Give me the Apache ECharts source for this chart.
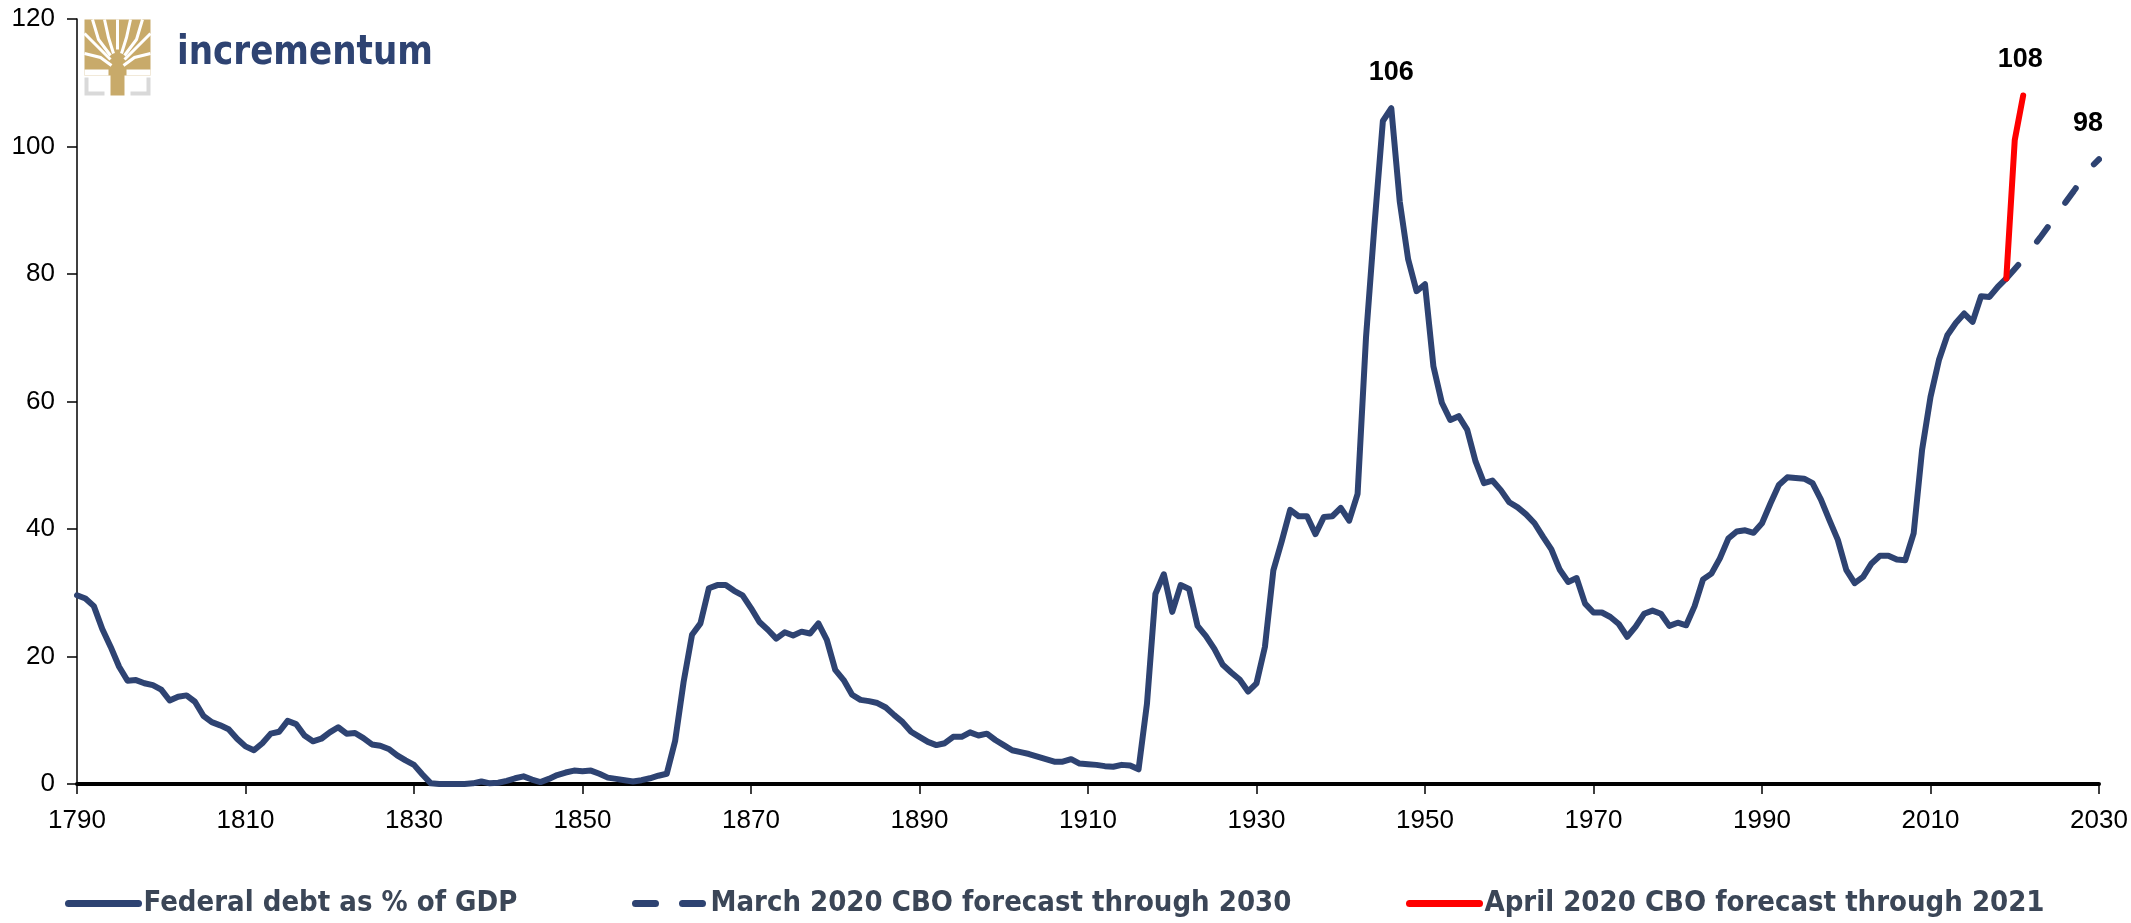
<!DOCTYPE html>
<html>
<head>
<meta charset="utf-8">
<title>Federal debt as % of GDP</title>
<script src="https://cdn.jsdelivr.net/npm/echarts@6/dist/echarts.min.js"></script>
<style>
  html, body { margin: 0; padding: 0; background: #fff; }
  #chart { width: 2131px; height: 923px; }
</style>
</head>
<body>
<div id="chart"></div>
<script>
// historical series, one value per year starting 1790
const histStart = 1790
const debtValues = [
  29.6, 29.1, 27.9, 24.3, 21.5, 18.4, 16.2, 16.3, 15.8, 15.5, // 1790-1799
  14.8, 13.1, 13.7, 13.9, 12.9, 10.7, 9.7, 9.2, 8.6, 7.1,      // 1800s
  5.9, 5.3, 6.4, 7.9, 8.2, 9.9, 9.4, 7.6, 6.7, 7.1,            // 1810s
  8.1, 8.9, 7.9, 8.0, 7.2, 6.2, 6.0, 5.5, 4.5, 3.7,            // 1820s
  3.0, 1.5, 0.1, 0.0, 0.0, 0.0, 0.0, 0.1, 0.4, 0.1,            // 1830s
  0.2, 0.5, 0.9, 1.2, 0.7, 0.3, 0.8, 1.4, 1.8, 2.1,            // 1840s
  2.0, 2.1, 1.6, 1.0, 0.8, 0.6, 0.4, 0.6, 0.9, 1.3,            // 1850s
  1.6, 6.8, 16.0, 23.4, 25.2, 30.7, 31.2, 31.2, 30.3, 29.6,    // 1860s
  27.6, 25.4, 24.2, 22.8, 23.8, 23.3, 23.9, 23.6, 25.2, 22.6,  // 1870s
  17.9, 16.3, 14.0, 13.2, 13.0, 12.7, 12.0, 10.8, 9.7, 8.2,    // 1880s
  7.4, 6.6, 6.1, 6.4, 7.4, 7.4, 8.1, 7.6, 7.9, 6.9,            // 1890s
  6.1, 5.3, 5.0, 4.7, 4.3, 3.9, 3.5, 3.5, 3.9, 3.2,            // 1900s
  3.1, 3.0, 2.8, 2.7, 3.0, 2.9, 2.3, 12.6, 29.8, 32.9,         // 1910s
  27.0, 31.2, 30.6, 24.8, 23.2, 21.2, 18.7, 17.5, 16.4, 14.5,  // 1920s
  15.8, 21.5, 33.5, 38.1, 43.0, 42.0, 42.0, 39.2, 41.9, 42.0,  // 1930s
  43.3, 41.3, 45.5, 70.1, 87.6, 104.0, 106.0, 91.4, 82.3, 77.3, // 1940s
  78.4, 65.5, 59.8, 57.1, 57.7, 55.6, 50.6, 47.2, 47.6, 46.1,  // 1950s
  44.2, 43.4, 42.3, 40.9, 38.8, 36.8, 33.6, 31.7, 32.3, 28.3,  // 1960s
  26.9, 26.9, 26.2, 25.1, 23.1, 24.7, 26.7, 27.2, 26.7, 24.8,  // 1970s
  25.3, 24.9, 27.9, 32.1, 33.0, 35.4, 38.5, 39.6, 39.8, 39.4,  // 1980s
  40.9, 44.0, 46.9, 48.1, 48.0, 47.9, 47.2, 44.6, 41.4, 38.3,  // 1990s
  33.6, 31.5, 32.5, 34.6, 35.8, 35.8, 35.2, 35.1, 39.3, 52.4,  // 2000s
  60.7, 66.5, 70.4, 72.3, 73.8, 72.5, 76.5, 76.4, 78.0, 79.3   // 2010-2019
]

// March 2020 CBO baseline, 2019-2030
const marchYears = [2019, 2020, 2021, 2022, 2023, 2024, 2025, 2026, 2027, 2028, 2029, 2030]
const marchValues = [79.3, 80.8, 82.3, 84.0, 85.7, 87.5, 89.3, 91.2, 93.0, 94.9, 96.7, 98.0]

// April 2020 CBO update, 2019-2021
const aprilYears = [2019, 2020, 2021]
const aprilValues = [79.3, 101.0, 108.0]

const seriesNames = [
  'Federal debt as % of GDP',
  'March 2020 CBO forecast through 2030',
  'April 2020 CBO forecast through 2021',
]

const navy = '#2E4372'
const red = '#FF0000'
const gold = '#C8AA6A'
const lineWidth = 6
const dash = [18, 30]

const histYears = debtValues.map((_, i) => histStart + i)
const pairs = (xs, ys) => ys.map((v, i) => [xs[i], v])

// value label on one point: the peak / the last point of a forecast
function valueMark(xs, ys, idx, offset) {
  return {
    symbol: 'circle',
    symbolSize: 1,
    itemStyle: { color: 'rgba(0,0,0,0)' },
    label: {
      show: true,
      position: 'top',
      distance: 22,
      offset: offset,
      formatter: '{c}',
      fontFamily: 'Liberation Sans, Arial, sans-serif',
      fontSize: 27,
      fontWeight: 'bold',
      color: '#000',
    },
    data: [{ coord: [xs[idx], ys[idx]], value: ys[idx] }],
    animation: false,
  }
}

const peakIdx = debtValues.indexOf(Math.max(...debtValues))

const chart = echarts.init(document.getElementById('chart'))

const legendText = {
  fontFamily: 'Liberation Sans Narrow, Arial Narrow, DejaVu Sans Condensed, sans-serif',
  fontSize: 29,
  fontWeight: 'bold',
  color: '#3B4657',
}

function legendAt(name, left, type) {
  return {
    data: [name],
    left: left,
    top: 884,
    itemWidth: 70,
    itemHeight: 14,
    itemGap: 0,
    textStyle: legendText,
    itemStyle: { opacity: 0 },
    lineStyle: { width: 7, cap: 'round', type: type },
    selectedMode: false,
  }
}

// tree crown branches of the logo, white gaps cut into the gold square
const branchLines = [
  [[8, 0], [14, 20], [26, 36]],
  [[0, 14], [12, 26], [26, 40]],
  [[0, 34], [16, 38], [27, 46]],
  [[20, 0], [24, 18], [29, 34]],
  [[46, 0], [42, 18], [37, 34]],
  [[58, 0], [52, 20], [40, 36]],
  [[66, 14], [54, 26], [40, 40]],
  [[66, 34], [50, 38], [39, 46]],
  [[33, 0], [33, 30]],
]

chart.setOption({
  animation: false,
  backgroundColor: '#fff',
  grid: { left: 77, right: 32, top: 19, bottom: 139, containLabel: false },
  legend: [
    legendAt(seriesNames[0], 60, 'solid'),
    legendAt(seriesNames[1], 627, [20, 27]),
    legendAt(seriesNames[2], 1401, 'solid'),
  ],
  xAxis: {
    type: 'value',
    min: 1790,
    max: 2030,
    interval: 20,
    axisLine: { show: true, lineStyle: { color: '#000', width: 4 } },
    axisTick: { show: true, length: 10, lineStyle: { color: '#000', width: 1.5 } },
    axisLabel: {
      fontFamily: 'Liberation Sans, Arial, sans-serif',
      fontSize: 26,
      color: '#000',
      margin: 24,
      showMaxLabel: true,
      showMinLabel: true,
      formatter: (v) => String(v),
    },
    splitLine: { show: false },
  },
  yAxis: {
    type: 'value',
    min: 0,
    max: 120,
    interval: 20,
    axisLine: { show: true, lineStyle: { color: '#000', width: 1.5 } },
    axisTick: { show: true, length: 10, lineStyle: { color: '#000', width: 1.5 } },
    axisLabel: {
      fontFamily: 'Liberation Sans, Arial, sans-serif',
      fontSize: 26,
      color: '#000',
      margin: 22,
    },
    splitLine: { show: false },
  },
  series: [
    {
      name: seriesNames[0],
      type: 'line',
      data: pairs(histYears, debtValues),
      symbol: 'none',
      color: navy,
      lineStyle: { color: navy, width: lineWidth, join: 'round', cap: 'round' },
      markPoint: valueMark(histYears, debtValues, peakIdx, [0, 0]),
      z: 3,
    },
    {
      name: seriesNames[1],
      type: 'line',
      data: pairs(marchYears, marchValues),
      symbol: 'none',
      color: navy,
      lineStyle: { color: navy, width: lineWidth, type: dash, cap: 'round' },
      markPoint: valueMark(marchYears, marchValues, marchValues.length - 1, [-11, 0]),
      z: 2,
    },
    {
      name: seriesNames[2],
      type: 'line',
      data: pairs(aprilYears, aprilValues),
      symbol: 'none',
      color: red,
      lineStyle: { color: red, width: lineWidth, join: 'round', cap: 'round' },
      markPoint: valueMark(aprilYears, aprilValues, aprilValues.length - 1, [-3, 0]),
      z: 4,
    },
  ],
  graphic: [
    // incrementum logo: gold tree over grey corner brackets
    {
      type: 'group',
      left: 82,
      top: 17,
      children: [
        { type: 'rect', shape: { x: 0, y: 0, width: 66, height: 56 }, style: { fill: gold } },
        ...branchLines.map((pts) => ({
          type: 'polyline',
          shape: { points: pts },
          style: { stroke: '#fff', lineWidth: 3, fill: null },
        })),
        { type: 'rect', shape: { x: 0, y: 50, width: 24, height: 6 }, style: { fill: '#fff' } },
        { type: 'rect', shape: { x: 42, y: 50, width: 24, height: 6 }, style: { fill: '#fff' } },
        { type: 'rect', shape: { x: 26, y: 48, width: 14, height: 28 }, style: { fill: gold } },
        { type: 'polyline', shape: { points: [[2, 58], [2, 74], [20, 74]] }, style: { stroke: '#D9D9D9', lineWidth: 4, fill: null } },
        { type: 'polyline', shape: { points: [[64, 58], [64, 74], [46, 74]] }, style: { stroke: '#D9D9D9', lineWidth: 4, fill: null } },
      ],
    },
    {
      type: 'text',
      x: 177,
      y: 34,
      scaleX: 0.95,
      style: {
        text: 'incrementum',
        fontFamily: 'DejaVu Sans Condensed, Liberation Sans, sans-serif',
        fontSize: 40,
        fontWeight: 'bold',
        fill: navy,
      },
    },
  ],
})
</script>
</body>
</html>
